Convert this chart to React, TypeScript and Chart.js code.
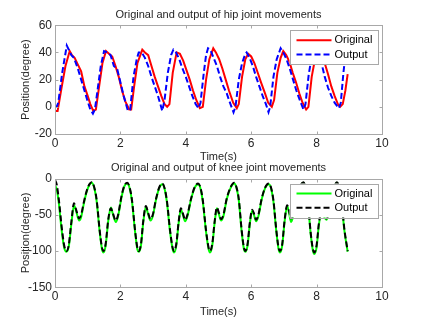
import React, { useEffect, useRef } from "react";
import { Chart, registerables } from "chart.js";

Chart.register(...registerables);

// ---------------- data ----------------
const hipOrigTime = [0, 0.08, 0.2, 0.32, 0.45, 0.52, 0.6, 0.7, 0.8, 0.9, 1.0, 1.08, 1.17, 1.25, 1.35, 1.45, 1.56, 1.65, 1.75, 1.85, 1.95, 2.05, 2.15, 2.27, 2.33, 2.42, 2.52, 2.67, 2.75, 2.85, 2.95, 3.05, 3.15, 3.25, 3.35, 3.43, 3.5, 3.6, 3.72, 3.82, 3.92, 4.02, 4.12, 4.22, 4.32, 4.43, 4.52, 4.62, 4.72, 4.84, 4.92, 5.02, 5.12, 5.22, 5.32, 5.45, 5.56, 5.62, 5.72, 5.82, 5.91, 6.0, 6.1, 6.2, 6.3, 6.42, 6.52, 6.63, 6.7, 6.8, 6.9, 6.98, 7.07, 7.17, 7.27, 7.37, 7.47, 7.57, 7.68, 7.75, 7.85, 7.95, 8.05, 8.15, 8.25, 8.35, 8.45, 8.55, 8.65, 8.72, 8.8, 8.88, 8.95];
const hipOrigDeg = [-3, -3, 14, 30, 41, 38, 36, 31, 26, 15, 8, 2, -3, -2, 15, 32, 41, 39, 37, 30, 22, 12, 4, -2, -2, 15, 32, 42, 40, 38, 30, 22, 15, 8, 2, 0, 2, 25, 40, 39, 34, 27, 20, 12, 5, -1, 0, 20, 35, 43, 40, 35, 28, 20, 12, 3, -1, 2, 22, 35, 39, 37, 32, 25, 18, 10, 3, 0, 5, 25, 36, 41, 38, 33, 25, 18, 10, 3, -2, 0, 22, 35, 41, 38, 32, 24, 15, 8, 2, 0, 2, 12, 24];

const hipOutTime = [0, 0.05, 0.1, 0.22, 0.36, 0.42, 0.5, 0.58, 0.7, 0.8, 0.9, 1.0, 1.08, 1.16, 1.22, 1.3, 1.4, 1.5, 1.6, 1.7, 1.8, 1.9, 2.0, 2.1, 2.23, 2.3, 2.4, 2.5, 2.56, 2.65, 2.75, 2.85, 2.95, 3.05, 3.15, 3.28, 3.35, 3.45, 3.55, 3.62, 3.7, 3.8, 3.9, 4.0, 4.1, 4.2, 4.3, 4.39, 4.45, 4.55, 4.62, 4.68, 4.75, 4.85, 4.95, 5.05, 5.15, 5.25, 5.35, 5.46, 5.52, 5.62, 5.72, 5.82, 5.86, 5.95, 6.05, 6.15, 6.25, 6.35, 6.45, 6.53, 6.58, 6.68, 6.78, 6.9, 6.98, 7.08, 7.18, 7.28, 7.38, 7.5, 7.6, 7.66, 7.76, 7.86, 7.95, 8.05, 8.15, 8.25, 8.35, 8.45, 8.55, 8.68, 8.74, 8.82, 8.9];
const hipOutDeg = [0, 0, 3, 25, 45, 42, 38, 36, 28, 20, 12, 4, -2, -5, -2, 12, 30, 41, 40, 38, 30, 28, 18, 8, -3, -2, 22, 35, 40, 40, 36, 30, 22, 15, 8, -3, 5, 25, 38, 42, 40, 35, 28, 22, 15, 8, 2, -1, 3, 25, 38, 43, 42, 36, 30, 22, 15, 10, 3, -4, 0, 20, 32, 39, 40, 36, 30, 22, 15, 8, 2, -4, 0, 22, 35, 43, 40, 35, 28, 20, 12, 4, -2, 2, 24, 38, 43, 39, 32, 22, 14, 8, 3, -1, 3, 25, 42];

const kneeTime = [
  0.0, 0.05, 0.12, 0.2, 0.28, 0.35, 0.42, 0.5, 0.58, 0.64, 0.74, 0.8, 0.88, 0.97, 1.05, 1.12,
  1.2, 1.27, 1.37, 1.44, 1.48, 1.55, 1.63, 1.71, 1.77, 1.86, 1.93, 2.03, 2.12, 2.21,
  2.28, 2.35, 2.45, 2.52, 2.56, 2.63, 2.7, 2.78, 2.84, 2.92, 2.99, 3.09, 3.19, 3.28,
  3.35, 3.42, 3.52, 3.6, 3.64, 3.71, 3.78, 3.85, 3.91, 3.98, 4.05, 4.16, 4.27, 4.38,
  4.45, 4.52, 4.62, 4.7, 4.74, 4.81, 4.88, 4.95, 5.01, 5.08, 5.15, 5.25, 5.37, 5.48,
  5.55, 5.62, 5.71, 5.78, 5.82, 5.89, 5.96, 6.03, 6.09, 6.15, 6.22, 6.32, 6.43, 6.54,
  6.61, 6.68, 6.77, 6.84, 6.88, 6.95, 7.02, 7.1, 7.16, 7.22, 7.29, 7.39, 7.5, 7.6,
  7.66, 7.73, 7.82, 7.89, 7.93, 8.0, 8.07, 8.15, 8.22, 8.3, 8.37, 8.46, 8.55, 8.62,
  8.69, 8.76, 8.85, 8.95,
];
const kneeOrigDeg = [
  -10, -14, -35, -70, -95, -101, -94, -63, -37, -44, -58, -53, -35, -18, -9, -6,
  -13, -30, -75, -98, -102, -92, -58, -40, -49, -60, -52, -27, -11, -7,
  -13, -30, -74, -98, -101, -92, -60, -39, -48, -58, -52, -29, -13, -8,
  -14, -32, -74, -98, -102, -92, -62, -43, -50, -59, -52, -29, -13, -8,
  -14, -32, -74, -98, -102, -92, -62, -41, -49, -58, -52, -29, -13, -7,
  -13, -30, -74, -98, -101, -92, -62, -44, -51, -59, -52, -29, -13, -8,
  -14, -32, -74, -98, -102, -92, -60, -38, -48, -60, -51, -28, -11, -6,
  -13, -32, -77, -100, -104, -95, -64, -47, -52, -57, -49, -27, -11, -6,
  -13, -32, -72, -101,
];
const kneeOutDeg = [
  -2, -8, -30, -65, -92, -100, -92, -60, -34, -42, -55, -50, -33, -17, -8, -5,
  -12, -28, -73, -96, -100, -90, -56, -41, -48, -58, -50, -25, -10, -6,
  -12, -28, -72, -96, -100, -90, -58, -38, -46, -56, -50, -28, -12, -7,
  -13, -30, -72, -96, -100, -90, -60, -41, -48, -57, -50, -28, -12, -7,
  -13, -30, -72, -96, -100, -90, -60, -40, -47, -56, -50, -28, -12, -6,
  -12, -28, -72, -96, -100, -90, -60, -43, -49, -57, -50, -28, -12, -7,
  -13, -30, -72, -96, -100, -90, -58, -37, -45, -55, -48, -26, -10, -5,
  -12, -30, -75, -98, -102, -92, -62, -45, -50, -55, -47, -25, -10, -5,
  -12, -30, -70, -100,
];

const seriesLabels = ["Original", "Output"];
const hipTitle = "Original and output of hip joint movements";
const kneeTitle = "Original and output of knee joint movements";
const xLabel = "Time(s)";
const yLabel = "Position(degree)";

// ---------------- styling ----------------
const FONT = "'Liberation Sans', Arial, Helvetica, sans-serif";
const TEXT = "#262626";
const AXIS = "#a8a8a8";

function pts(t: number[], v: number[]) {
  const n = Math.min(t.length, v.length);
  const out: { x: number; y: number }[] = [];
  for (let i = 0; i < n; i++) out.push({ x: t[i], y: v[i] });
  return out;
}

function makeBoxPlugin(title: string, titleY: number) {
  return {
    id: "matlabBox",
    afterDraw(chart: any) {
      const { ctx, chartArea: a, scales } = chart;
      const l = Math.round(a.left) + 0.5;
      const r = Math.round(a.right) + 0.5;
      const t = Math.round(a.top) + 0.5;
      const b = Math.round(a.bottom) + 0.5;
      ctx.save();
      // title centred over the axes box
      ctx.fillStyle = TEXT;
      ctx.font = `11px ${FONT}`;
      ctx.textAlign = "center";
      ctx.textBaseline = "middle";
      ctx.fillText(title, (a.left + a.right) / 2, titleY);

      ctx.strokeStyle = AXIS;
      ctx.lineWidth = 1;
      ctx.setLineDash([]);
      ctx.strokeRect(l, t, r - l, b - t);
      const L = 3;
      ctx.beginPath();
      for (const tk of scales.x.ticks) {
        const px = Math.round(scales.x.getPixelForValue(tk.value)) + 0.5;
        ctx.moveTo(px, b);
        ctx.lineTo(px, b - L);
        ctx.moveTo(px, t);
        ctx.lineTo(px, t + L);
      }
      for (const tk of scales.y.ticks) {
        const py = Math.round(scales.y.getPixelForValue(tk.value)) + 0.5;
        ctx.moveTo(l, py);
        ctx.lineTo(l + L, py);
        ctx.moveTo(r, py);
        ctx.lineTo(r - L, py);
      }
      ctx.stroke();

      // legend box (inside top-right)
      const w = 88;
      const h = 34;
      const lx = a.right - 4.5 - w;
      const ly = a.top + 5;
      ctx.fillStyle = "#ffffff";
      ctx.fillRect(lx, ly, w, h);
      ctx.strokeStyle = AXIS;
      ctx.strokeRect(Math.round(lx) + 0.5, Math.round(ly) + 0.5, w, h);
      chart.data.datasets.forEach((ds: any, i: number) => {
        const cy = ly + 10 + i * 14.3;
        ctx.beginPath();
        ctx.strokeStyle = ds.borderColor;
        ctx.lineWidth = ds.borderWidth;
        ctx.setLineDash(ds.borderDash || []);
        ctx.moveTo(lx + 7, cy);
        ctx.lineTo(lx + 42, cy);
        ctx.stroke();
        ctx.setLineDash([]);
        ctx.fillStyle = "#000000";
        ctx.font = `11px ${FONT}`;
        ctx.textBaseline = "middle";
        ctx.textAlign = "left";
        ctx.fillText(ds.label, lx + 45, cy);
      });
      ctx.restore();
    },
  };
}

interface PanelProps {
  top: number;
  title: string;
  titleY: number;
  padTop: number;
  xAxisHeight: number;
  xTitleBottom: number;
  yMin: number;
  yMax: number;
  yStep: number;
  datasets: any[];
}

function Panel(p: PanelProps) {
  const ref = useRef<HTMLCanvasElement>(null);
  useEffect(() => {
    if (!ref.current) return;
    const chart = new Chart(ref.current, {
      type: "line",
      data: { datasets: p.datasets },
      plugins: [makeBoxPlugin(p.title, p.titleY)],
      options: {
        animation: false,
        responsive: false,
        devicePixelRatio: 1,
        layout: { padding: { left: 0, right: 41, top: p.padTop, bottom: 0 } },
        plugins: {
          legend: { display: false },
          tooltip: { enabled: false },
          title: { display: false },
        },
        elements: { point: { radius: 0 } },
        scales: {
          x: {
            type: "linear",
            min: 0,
            max: 10,
            grid: { display: false, drawTicks: false },
            border: { display: false },
            ticks: { stepSize: 2, padding: 2, color: TEXT, font: { family: FONT, size: 12 } },
            title: {
              display: true,
              text: xLabel,
              color: TEXT,
              font: { family: FONT, size: 11 },
              padding: { top: 0, bottom: p.xTitleBottom },
            },
            afterFit: (s: any) => {
              s.height = p.xAxisHeight;
            },
          },
          y: {
            type: "linear",
            min: p.yMin,
            max: p.yMax,
            grid: { display: false, drawTicks: false },
            border: { display: false },
            ticks: { stepSize: p.yStep, padding: 3, color: TEXT, font: { family: FONT, size: 12 } },
            title: {
              display: true,
              text: yLabel,
              color: TEXT,
              font: { family: FONT, size: 11 },
              padding: { top: 19, bottom: 0 },
            },
            afterFit: (s: any) => {
              s.width = 55;
            },
          },
        },
      } as any,
    });
    return () => chart.destroy();
  }, []);
  return (
    <canvas
      ref={ref}
      width={423}
      height={165}
      style={{ position: "absolute", left: 0, top: p.top, width: 423, height: 165 }}
    />
  );
}

export default function App() {
  // "order": lower value is drawn on top, so the Output curve overlays the Original one
  const hipSets = [
    {
      label: seriesLabels[0],
      data: pts(hipOrigTime, hipOrigDeg),
      borderColor: "#ff0000",
      borderWidth: 2,
      tension: 0,
      fill: false,
      order: 2,
    },
    {
      label: seriesLabels[1],
      data: pts(hipOutTime, hipOutDeg),
      borderColor: "#0000ff",
      borderWidth: 2,
      borderDash: [6, 3],
      tension: 0,
      fill: false,
      order: 1,
    },
  ];
  const kneeSets = [
    {
      label: seriesLabels[0],
      data: pts(kneeTime, kneeOrigDeg),
      borderColor: "#00ff00",
      borderWidth: 2,
      cubicInterpolationMode: "monotone",
      fill: false,
      order: 2,
    },
    {
      label: seriesLabels[1],
      data: pts(kneeTime, kneeOutDeg),
      borderColor: "#000000",
      borderWidth: 2,
      borderDash: [6, 3],
      cubicInterpolationMode: "monotone",
      fill: false,
      order: 1,
    },
  ];
  return (
    <div style={{ position: "absolute", left: 0, top: 0, width: 423, height: 325, background: "#ffffff" }}>
      <Panel
        top={0}
        title={hipTitle}
        titleY={14.6}
        padTop={25.2}
        xAxisHeight={31}
        xTitleBottom={1.4}
        yMin={-20}
        yMax={60}
        yStep={20}
        datasets={hipSets}
      />
      <Panel
        top={160}
        title={kneeTitle}
        titleY={7.5}
        padTop={18.5}
        xAxisHeight={37.7}
        xTitleBottom={6.7}
        yMin={-150}
        yMax={0}
        yStep={50}
        datasets={kneeSets}
      />
    </div>
  );
}
